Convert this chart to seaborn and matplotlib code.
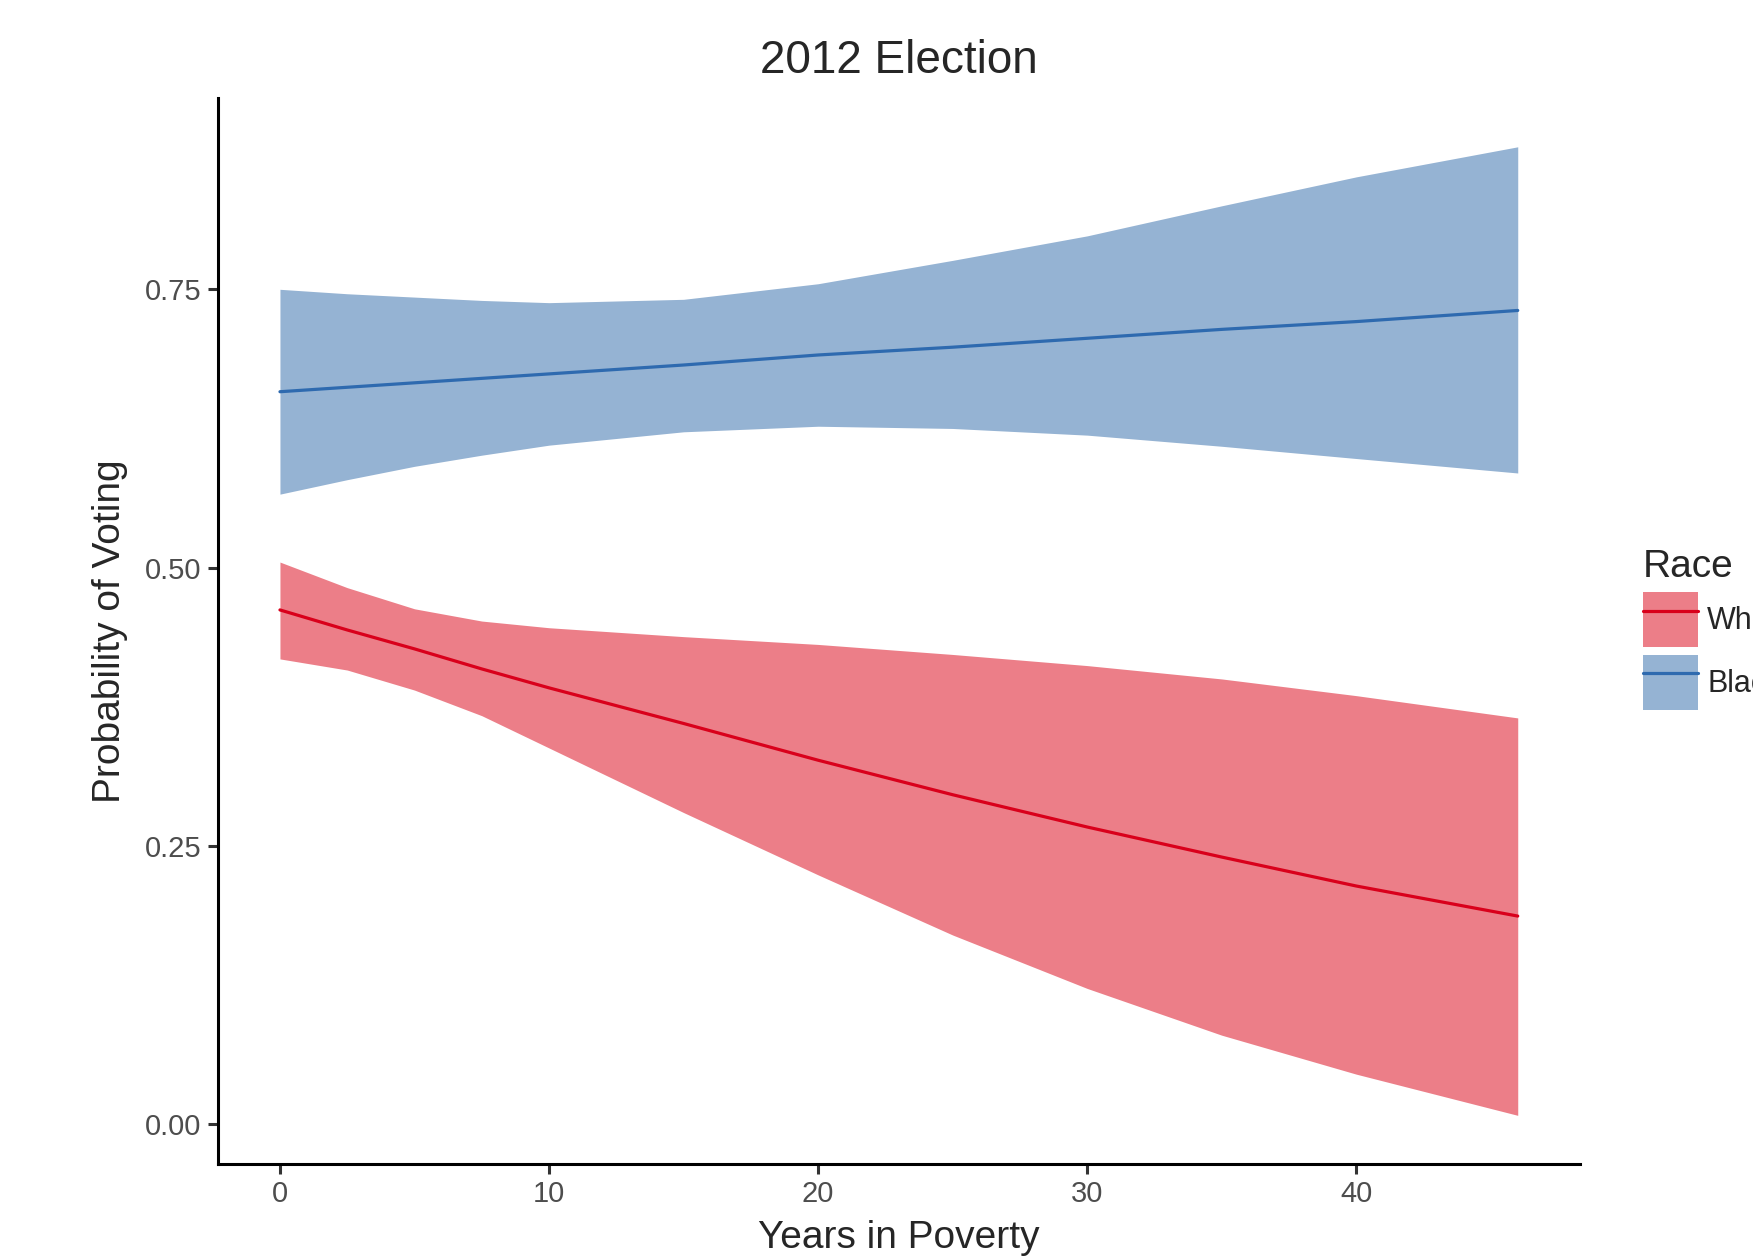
import matplotlib
matplotlib.use("Agg")
import matplotlib.pyplot as plt
import numpy as np
import pandas as pd
import seaborn as sns
from matplotlib.patches import Patch
from matplotlib.lines import Line2D

years = [0, 2.5, 5, 7.5, 10, 15, 20, 25, 30, 35, 40, 46]

# predicted probability of voting and its interval, per race
white_fit = [0.462, 0.444, 0.427, 0.409, 0.392, 0.360, 0.327, 0.296, 0.267, 0.240, 0.214, 0.187]
white_lo = [0.418, 0.408, 0.390, 0.367, 0.338, 0.280, 0.224, 0.170, 0.122, 0.080, 0.045, 0.008]
white_hi = [0.505, 0.482, 0.463, 0.452, 0.446, 0.438, 0.431, 0.422, 0.412, 0.400, 0.385, 0.365]

black_fit = [0.658, 0.662, 0.666, 0.670, 0.674, 0.682, 0.691, 0.698, 0.706, 0.714, 0.721, 0.731]
black_lo = [0.566, 0.579, 0.591, 0.601, 0.610, 0.622, 0.627, 0.625, 0.619, 0.609, 0.598, 0.585]
black_hi = [0.750, 0.746, 0.743, 0.740, 0.738, 0.741, 0.755, 0.776, 0.798, 0.825, 0.851, 0.878]

races = ["White", "Black"]
line_colors = {"White": "#D9001B", "Black": "#2E6AAF"}
band_colors = {"White": "#EC7E88", "Black": "#95B3D3"}

df = pd.DataFrame({
    "years": years * 2,
    "prob": white_fit + black_fit,
    "lo": white_lo + black_lo,
    "hi": white_hi + black_hi,
    "Race": ["White"] * len(years) + ["Black"] * len(years),
})

sns.set_theme(style="ticks")
plt.rcParams["font.family"] = ["Liberation Sans", "DejaVu Sans"]

fig = plt.figure(figsize=(17.53, 12.58), dpi=100)
ax = fig.add_axes([0.1244, 0.0749, 0.9011 - 0.1244, 0.9218 - 0.0749])

for race in races:
    sub = df[df["Race"] == race]
    ax.fill_between(sub["years"], sub["lo"], sub["hi"], color=band_colors[race], lw=0, zorder=1)

sns.lineplot(data=df, x="years", y="prob", hue="Race", palette=line_colors,
             linewidth=2.3, ax=ax, legend=False, zorder=2, sort=True)

# ggplot-style 5% expansion of the data range
xmin, xmax = df["years"].min(), df["years"].max()
ymin, ymax = df["lo"].min(), df["hi"].max()
xpad = (xmax - xmin) * 0.05
ypad = (ymax - ymin) * 0.05
ax.set_xlim(xmin - xpad, xmax + xpad)
ax.set_ylim(ymin - ypad, ymax + ypad)

ax.set_xticks([0, 10, 20, 30, 40])
ax.set_yticks([0.0, 0.25, 0.5, 0.75])
ax.set_yticklabels(["0.00", "0.25", "0.50", "0.75"])

sns.despine(ax=ax)
for s in ["left", "bottom"]:
    ax.spines[s].set_linewidth(2.2)
    ax.spines[s].set_color("black")
ax.tick_params(axis="both", length=7, width=2.2, color="#333333",
               labelsize=21, labelcolor="#4D4D4D", pad=5)

ax.set_xlabel("Years in Poverty", fontsize=28, labelpad=8)
ax.set_ylabel("Probability of Voting", fontsize=28, labelpad=12)
ax.set_title("2012 Election", fontsize=33, pad=18)

handles = [(Patch(facecolor=band_colors[r], edgecolor="none"),
            Line2D([], [], color=line_colors[r], lw=2.3)) for r in races]
leg = fig.legend(handles, races, title="Race", loc="upper left",
                 bbox_to_anchor=(1643 / 1753, 1 - 549 / 1258),
                 frameon=False, fontsize=22, title_fontsize=28,
                 handlelength=1.8, handleheight=2.4, labelspacing=0.24,
                 handletextpad=0.3, borderpad=0, borderaxespad=0,
                 alignment="left")

fig.savefig("out.png", dpi=100)
